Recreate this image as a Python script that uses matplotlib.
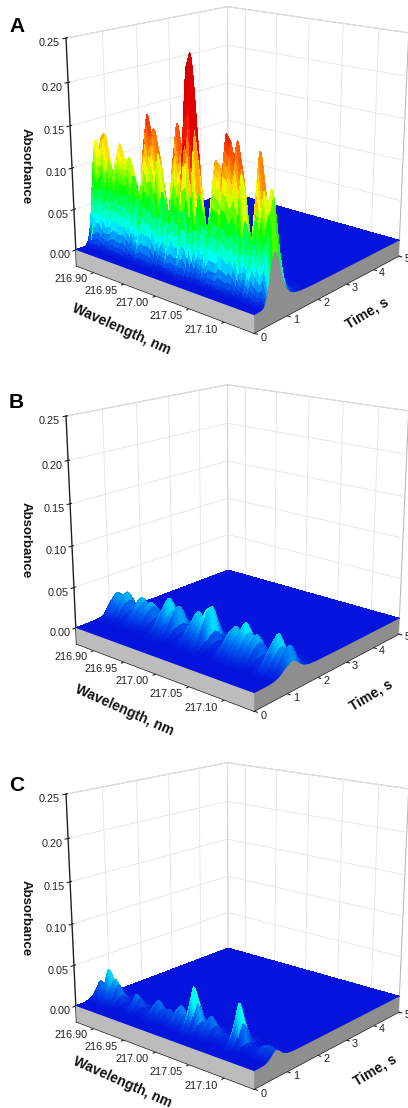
import numpy as np
import matplotlib
matplotlib.use("Agg")
import matplotlib.pyplot as plt
from matplotlib.colors import LinearSegmentedColormap, Normalize
from mpl_toolkits.mplot3d.art3d import Poly3DCollection

W_MIN, W_MAX = 216.87, 217.14
wl_ticks = [216.90, 216.95, 217.00, 217.05, 217.10]
wl_tick_labels = ["216.90", "216.95", "217.00", "217.05", "217.10"]
time_ticks = [0, 1, 2, 3, 4, 5]
abs_ticks = [0.00, 0.05, 0.10, 0.15, 0.20, 0.25]
abs_tick_labels = ["0.00", "0.05", "0.10", "0.15", "0.20", "0.25"]

time_s = [0, .025, .05, .075, .1, .125, .15, .175, .2, .225, .25, .275, .3, .325, .35, .375, .4, .425, .45, .475,
          .5, .525, .55, .575, .6, .625, .65, .675, .7, .725, .75, .775, .8, .825, .85, .875, .9, .925, .95, .975, 1.0,
          1.05, 1.1, 1.15, 1.2, 1.25, 1.3, 1.35, 1.4, 1.45, 1.5, 1.55, 1.6, 1.65, 1.7, 1.75, 1.8, 1.85, 1.9, 1.95, 2.0,
          2.5, 3.0, 3.5, 4.0, 4.5, 5.0]

profile_a = [0, 0, 0, 0, 0, .001, .002, .004, .007, .012, .02, .035, .06, .10, .16, .24, .33, .43, .54, .65,
             .75, .84, .91, .97, 1.0, .99, .96, .92, .87, .81, .75, .68, .61, .54, .47, .41, .35, .30, .25, .21, .18,
             .13, .09, .07, .05, .04, .03, .025, .02, .015, .012, .01, .008, .006, .005, .004, .003, .002, .002, .001, .001,
             0, 0, 0, 0, 0, 0]
profile_b = [0, 0, 0, 0, 0, 0, 0, 0, 0, .001, .001, .002, .003, .004, .006, .008, .01, .013, .017, .022,
             .028, .036, .046, .058, .072, .09, .11, .135, .165, .20, .24, .285, .335, .39, .45, .51, .57, .63, .69, .75, .80,
             .89, .96, 1.0, 1.0, .93, .82, .68, .54, .41, .30, .22, .16, .12, .09, .07, .06, .05, .04, .03, .025,
             .005, 0, 0, 0, 0, 0]
profile_c = [0, 0, 0, 0, 0, 0, .001, .003, .005, .01, .02, .035, .05, .075, .11, .15, .20, .26, .33, .41,
             .50, .60, .70, .80, .89, .96, 1.0, .98, .93, .86, .78, .69, .60, .51, .43, .36, .30, .25, .20, .16, .13,
             .09, .06, .04, .03, .02, .015, .01, .008, .006, .005, .004, .003, .002, .002, .001, .001, .001, 0, 0, 0,
             0, 0, 0, 0, 0, 0]

spectrum_a = [.01, .127, .105, .132, .138, .11, .09, .096, .115, .13, .115, .112, .117, .10, .075, .052, .07, .14, .172,
              .15, .158, .135, .09, .055, .05, .07, .135, .17, .14, .15, .235, .25, .17, .10, .065, .05, .06, .10, .14,
              .135, .13, .172, .165, .145, .167, .14, .085, .055, .05, .10, .162, .125, .10, .125, .06]
spectrum_b = [.006, .027, .02, .026, .031, .022, .012, .01, .018, .03, .026, .018, .028, .024, .012, .007, .012, .03, .04,
              .025, .03, .034, .016, .008, .007, .012, .026, .035, .024, .028, .042, .046, .02, .008, .005, .007, .014,
              .026, .032, .024, .026, .04, .03, .024, .03, .022, .01, .007, .012, .028, .039, .026, .018, .03, .014]
spectrum_c = [.01, .022, .012, .018, .04, .026, .03, .024, .012, .005, .003, .004, .01, .02, .016, .007, .004, .005, .009,
              .016, .022, .012, .01, .015, .009, .011, .02, .025, .016, .014, .03, .052, .036, .014, .012, .018, .024,
              .014, .006, .008, .009, .004, .006, .025, .05, .03, .008, .004, .004, .005, .008, .012, .013, .009, .011]

panels = [("A", spectrum_a, profile_a), ("B", spectrum_b, profile_b), ("C", spectrum_c, profile_c)]

SLAB = -0.02
FIG_W, FIG_H = 408, 1108
plt.rcParams["font.family"] = ["Liberation Sans", "DejaVu Sans"]
plt.rcParams["grid.color"] = "#e4e4e4"
plt.rcParams["grid.linewidth"] = 0.6
plt.rcParams["axes3d.automargin"] = False

cmap = LinearSegmentedColormap.from_list("abs", [
    (0.0, "#0514dc"), (0.06, "#0060f0"), (0.15, "#00ffff"), (0.32, "#00ff00"),
    (0.46, "#ffff00"), (0.60, "#ff6000"), (0.70, "#ee0000"), (1.0, "#cc0000")])
norm = Normalize(0, 0.25)

fig = plt.figure(figsize=(FIG_W / 100, FIG_H / 100), dpi=100)
wavelengths = np.linspace(W_MIN, W_MAX, len(spectrum_a))
t = np.array(time_s)
SIDE = 396
CX, CY = 234, 157
PANEL_DY = [0, 378, 756]
LETTER_Y = [25, 401, 784]
ZLABEL_Y = [166, 540, 918]
WL_LABEL_XY = [(121, 329), (124, 710), (122, 1082)]
TIME_LABEL_XY = [(367, 313), (371, 695), (375, 1070)]


def place(x, y):
    return x / FIG_W, 1 - y / FIG_H


for k, (name, spec, prof) in enumerate(panels):
    cy = CY + PANEL_DY[k]
    ax = fig.add_axes([(CX - SIDE / 2) / FIG_W, 1 - (cy + SIDE / 2) / FIG_H, SIDE / FIG_W, SIDE / FIG_H],
                      projection="3d", computed_zorder=False)
    ax.patch.set_alpha(0)
    ax.set_proj_type("persp", focal_length=0.52)
    ax.view_init(elev=17, azim=-49.5)
    ax.set_box_aspect((1, 1, 1.0))
    ax.set_xlim(W_MIN, W_MAX, view_margin=0)
    ax.set_ylim(0, 5, view_margin=0)
    ax.set_zlim(SLAB, 0.25, view_margin=0)

    X, Y = np.meshgrid(wavelengths, t, indexing="ij")
    Z = np.outer(spec, prof)
    Zc = 0.25 * (Z[:-1, :-1] + Z[1:, :-1] + Z[:-1, 1:] + Z[1:, 1:])
    ax.plot_surface(X, Y, Z, facecolors=cmap(norm(Zc)), rcount=X.shape[0], ccount=X.shape[1],
                    shade=False, linewidth=0.15, antialiased=False, zorder=2)
    front = [[(W_MIN, 0, SLAB), (W_MAX, 0, SLAB), (W_MAX, 0, 0), (W_MIN, 0, 0)]]
    ax.add_collection3d(Poly3DCollection(front, facecolors="#bcbcbc", edgecolors="none", zorder=3))
    edge = [(W_MAX, tv, zv) for tv, zv in zip(t, Z[-1, :])]
    right = [[(W_MAX, 0, SLAB)] + edge + [(W_MAX, 5, SLAB)]]
    ax.add_collection3d(Poly3DCollection(right, facecolors="#8e8e8e", edgecolors="none", zorder=4))

    ax.set_xticks(wl_ticks, wl_tick_labels)
    ax.set_yticks(time_ticks)
    ax.set_zticks(abs_ticks, abs_tick_labels)
    ax.tick_params(axis="x", labelsize=7.8, colors="#222222", pad=-2)
    ax.tick_params(axis="y", labelsize=7.8, colors="#222222", pad=-3.5)
    ax.tick_params(axis="z", labelsize=7.8, colors="#222222", pad=-1)
    plt.setp(ax.get_xticklabels(), ha="right", va="bottom")
    plt.setp(ax.get_yticklabels(), ha="left", va="bottom")
    ax.zaxis.set_ticks_position("lower")
    for axis in (ax.xaxis, ax.yaxis, ax.zaxis):
        axis.pane.set_facecolor((1, 1, 1, 0))
        axis.pane.set_edgecolor("#666666")
        axis.pane.set_linewidth(0.7)
        axis.line.set_color("#222222")
        axis.line.set_linewidth(1.0)
    fig.text(*place(9, LETTER_Y[k] + 7), name, fontsize=15, fontweight="bold", color="black")
    fig.text(*place(26, ZLABEL_Y[k]), "Absorbance", fontsize=9.5, fontweight="bold",
             rotation=-90, ha="center", va="center", color="#111111")
    fig.text(*place(*WL_LABEL_XY[k]), "Wavelength, nm", fontsize=10, fontweight="bold",
             rotation=-24, ha="center", va="center", rotation_mode="anchor", color="#111111")
    fig.text(*place(*TIME_LABEL_XY[k]), "Time, s", fontsize=10, fontweight="bold",
             rotation=31, ha="center", va="center", rotation_mode="anchor", color="#111111")

fig.savefig("out.png", dpi=100)
